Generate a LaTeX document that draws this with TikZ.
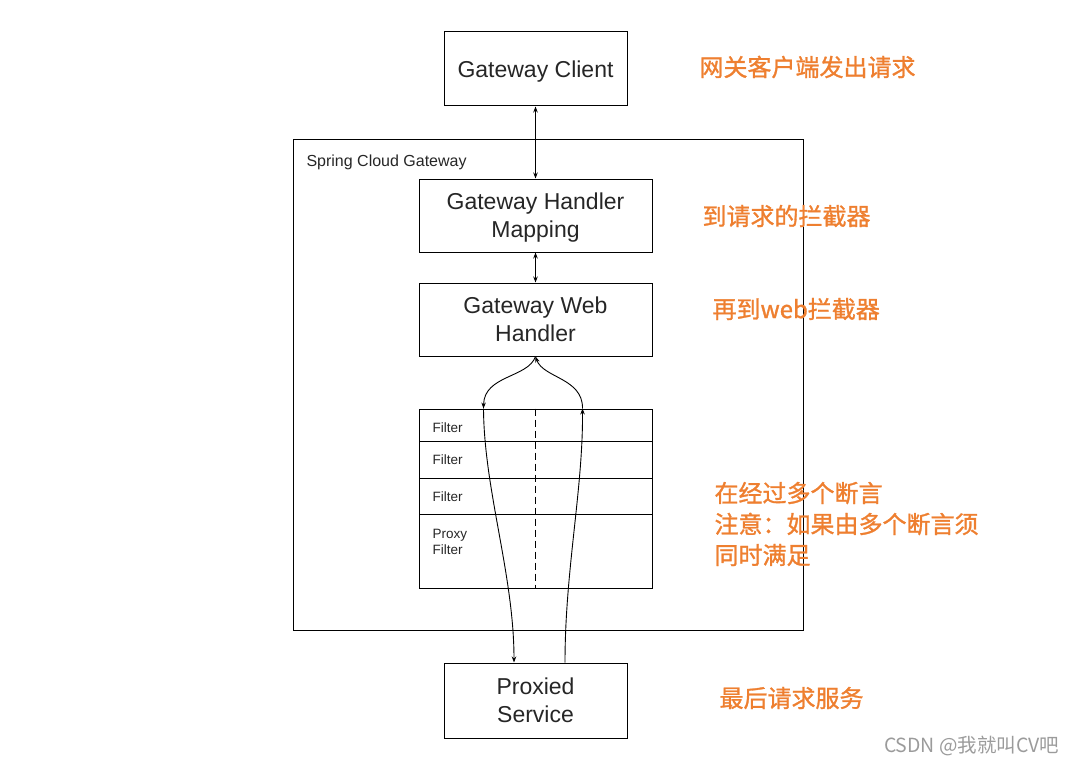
\documentclass[tikz,border=0pt]{standalone}
\usepackage{fontspec}
\setmainfont{Liberation Sans}
\newfontfamily\cjk{Noto Sans CJK SC}
\newfontfamily\cjkfett{Noto Sans CJK SC}[FakeBold=1.2]
\usetikzlibrary{arrows.meta}
\definecolor{hinweis}{RGB}{238,127,48}
\definecolor{marke}{RGB}{155,155,155}

\begin{document}
\begin{tikzpicture}[x=1pt,y=-1pt,
  box/.style={draw,line width=1pt,inner sep=0pt,align=center,text depth=0pt,
    text=black!85,font=\fontsize{23}{28}\selectfont},
  zeile/.style={draw,line width=1pt,inner sep=0pt,minimum width=233pt},
  klein/.style={anchor=west,align=left,text=black!85,font=\fontsize{13.5}{16}\selectfont},
  hinweistext/.style={anchor=west,align=left,text=hinweis,
    font=\cjkfett\fontsize{24}{31}\selectfont},
  pfeil/.style={line width=0.9pt,-{Stealth[length=6pt,width=4.5pt]}},
  doppelpfeil/.style={line width=0.9pt,{Stealth[length=6pt,width=4.5pt]}-{Stealth[length=6pt,width=4.5pt]}}]

\useasboundingbox (0,0) rectangle (1076,765);

% Client
\node[box,minimum width=183pt,minimum height=74pt] (client) at (535.5,69) {Gateway Client};

% Spring Cloud Gateway
\node[draw,line width=1pt,minimum width=510pt,minimum height=490pt] (gw) at (548,385) {};
\node[anchor=west,text=black!85,font=\fontsize{16}{19}\selectfont] (gwname) at (303,162) {Spring Cloud Gateway};

\node[box,minimum width=233pt,minimum height=73pt] (mapping) at (535.5,215.5) {Gateway Handler\\Mapping};
\node[box,minimum width=233pt,minimum height=73pt] (web) at (535.5,319.5) {Gateway Web\\Handler};

% Filter
\foreach \name/\mitte/\hoehe in {f1/425/32, f2/459.5/37, f3/496/36, f4/551/74}
{
    \node[zeile,minimum height=\hoehe pt] (\name) at (535.5,\mitte) {};
}

\node[klein] (l1) at (429,428) {Filter};
\node[klein] (l2) at (429,460) {Filter};
\node[klein] (l3) at (429,497) {Filter};
\node[klein] (l4) at (429,542) {Proxy\\Filter};

\draw[dashed,line width=1pt,dash pattern=on 7pt off 4pt] (f1.north) -- (f4.south);

% Proxied Service
\node[box,minimum width=183pt,minimum height=75pt] (service) at (535.5,700.5) {Proxied\\Service};

% Pfeile
\draw[doppelpfeil] (client.south) -- (mapping.north);
\draw[doppelpfeil] (mapping.south) -- (web.north);

\coordinate (einL) at ([xshift=65pt]f1.north west);
\coordinate (einR) at ([xshift=164pt]f1.north west);
\coordinate (ausL) at ([xshift=-21.5pt]service.north);
\coordinate (ausR) at ([xshift=29.5pt]service.north);

\draw[pfeil]
(web.south) ..
controls (528,378) and (484,375) ..
(einL);

\draw[pfeil]
(einL) ..
controls (484,490) and (514,575) ..
(ausL);

\draw[pfeil]
(ausR) ..
controls (565,570) and (583,490) ..
(einR);

\draw[pfeil]
(einR) ..
controls (583,378) and (543,378) ..
(web.south);

% Hinweise
\node[hinweistext] (h1) at (696,67) {网关客户端发出请求};
\node[hinweistext] (h2) at (699,216) {到请求的拦截器};
\node[hinweistext] (h3) at (709,309) {再到web拦截器};
\node[hinweistext] (h4) at (711,524) {在经过多个断言\\注意：如果由多个断言须\\同时满足};
\node[hinweistext] (h5) at (716,698) {最后请求服务};

% Wasserzeichen
\node[anchor=east,text=marke,font=\cjk\fontsize{19.5}{22}\selectfont] (marke) at (1063,746) {CSDN @我就叫CV吧};

\end{tikzpicture}
\end{document}
